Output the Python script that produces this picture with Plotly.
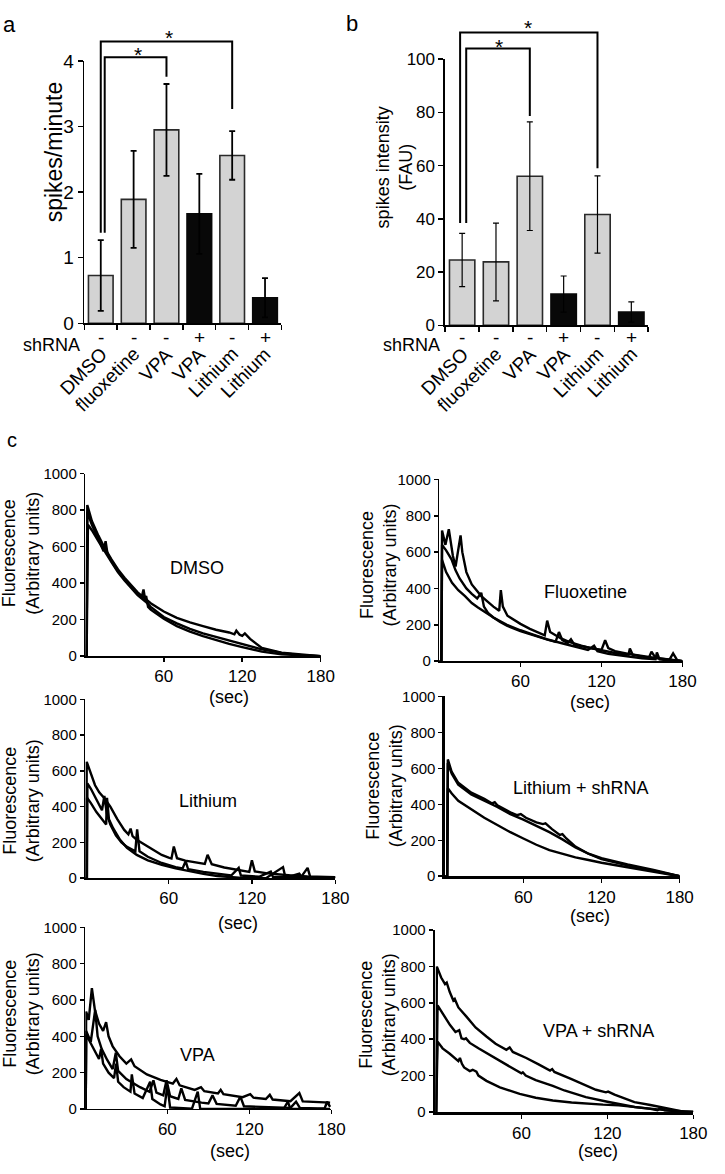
import plotly.graph_objects as go

W, H = 725, 1174
FONT = "Liberation Sans, Arial, Helvetica, sans-serif"

# ---------------- data: panels a and b ----------------
categories = ["DMSO", "fluoxetine", "VPA", "VPA", "Lithium", "Lithium"]
shrna = ["-", "-", "-", "+", "-", "+"]
spikes_per_min = [0.73, 1.89, 2.95, 1.67, 2.56, 0.39]
spikes_per_min_err = [0.54, 0.74, 0.70, 0.61, 0.37, 0.30]
spike_intensity = [24.5, 23.8, 56.0, 11.7, 41.6, 5.0]
spike_intensity_err = [10.0, 14.6, 20.4, 6.8, 14.5, 3.8]
y_ticks_a = [0, 1, 2, 3, 4]
y_ticks_b = [0, 20, 40, 60, 80, 100]

# ---------------- data: panel c traces (time in s, fluorescence) ----------------
dmso_t1 = [0, 1, 1.5, 5, 10, 15, 20, 25, 30, 40, 50, 60, 70, 80, 90, 100, 110, 114, 115.5, 118, 120, 122, 126, 135, 150, 165, 180]
dmso_y1 = [0, 0, 828, 740, 660, 590, 530, 475, 430, 350, 290, 245, 210, 185, 165, 145, 130, 120, 140, 118, 112, 125, 95, 45, 20, 8, 0]
dmso_t2 = [0, 1, 1.5, 5, 10, 14, 15.5, 17, 20, 25, 30, 40, 43, 44.5, 46, 50, 60, 70, 80, 90, 100, 110, 120, 135, 150, 165, 180]
dmso_y2 = [0, 0, 790, 720, 640, 575, 630, 560, 520, 465, 420, 345, 320, 365, 300, 270, 215, 180, 150, 125, 105, 85, 65, 38, 18, 6, 0]
dmso_t3 = [0, 1, 2, 5, 10, 15, 20, 25, 30, 40, 45, 46.5, 48, 50, 60, 70, 80, 90, 100, 110, 120, 135, 150, 165, 180]
dmso_y3 = [0, 0, 720, 690, 630, 570, 515, 460, 415, 335, 305, 330, 270, 255, 205, 165, 135, 110, 88, 68, 50, 25, 10, 3, 0]

fluo_t1 = [0, 1.5, 2, 4.5, 7, 10, 12, 15.7, 17, 20, 24, 31, 40, 44.3, 45.5, 47, 50.4, 60, 67, 78, 79.8, 82, 90, 96, 105, 113, 120, 122.7, 125, 130, 140, 150, 160, 170, 180]
fluo_y1 = [0, 0, 719, 640, 726, 580, 521, 692, 600, 490, 422, 358, 300, 277, 391, 300, 250, 205, 178, 142, 223, 160, 125, 106, 85, 70, 62, 115, 72, 55, 40, 28, 18, 10, 0]
fluo_t2 = [0, 1.5, 2, 5, 9, 12, 15, 20, 24, 28, 31, 33, 36, 40, 45, 50, 60, 70, 80, 86, 88.5, 91, 95, 97.4, 100, 110, 120, 130, 140, 141, 143, 150, 155, 157, 160, 170, 180]
fluo_y2 = [0, 0, 640, 610, 560, 500, 455, 400, 370, 345, 376, 300, 265, 240, 215, 195, 165, 140, 118, 106, 160, 115, 100, 120, 90, 75, 58, 45, 35, 70, 36, 25, 18, 52, 18, 8, 0]
fluo_t3 = [0, 1.5, 2, 5, 9.4, 14, 19, 24, 28.6, 35, 40, 50, 60, 70, 80, 90, 100, 110, 114.5, 117, 125, 140, 150, 160, 161, 163, 170, 173, 176, 180]
fluo_y3 = [0, 0, 557, 490, 431, 390, 358, 320, 295, 262, 240, 200, 170, 145, 120, 100, 80, 62, 85, 55, 40, 25, 16, 10, 48, 10, 4, 43, 5, 0]

li_t1 = [0, 0.7, 1, 4, 7, 10, 14, 18, 23, 28, 31, 32.6, 34, 37, 42, 50, 55, 60, 62, 63.7, 66, 72, 80, 86, 88, 91, 100, 110, 118, 119.9, 122, 130, 140, 150, 160, 170, 180]
li_y1 = [0, 0, 651, 590, 520, 480, 445, 400, 330, 270, 245, 277, 235, 215, 190, 150, 130, 115, 110, 177, 112, 98, 88, 80, 131, 78, 60, 45, 35, 100, 38, 28, 20, 14, 10, 8, 6]
li_t2 = [0, 1.2, 1.5, 4, 8, 12, 13.7, 15.5, 18, 22, 26, 30, 35, 36, 37.3, 39, 45, 55, 65, 70, 72.2, 74, 85, 95, 105, 110.4, 112, 125, 133.5, 135, 145, 154, 156, 165, 180]
li_y2 = [0, 0, 530, 500, 440, 380, 460, 360, 300, 240, 200, 175, 155, 150, 273, 150, 120, 85, 62, 55, 95, 50, 35, 25, 15, 58, 15, 8, 37, 8, 5, 26, 4, 3, 3]
li_t3 = [0, 1, 1.2, 4, 8, 12, 15, 15.6, 17, 20, 25, 30, 37, 45, 55, 65, 75, 85, 95, 105, 115, 130, 142.3, 144, 155, 160, 162, 170, 180]
li_y3 = [0, 0, 450, 420, 370, 330, 300, 450, 330, 280, 215, 170, 130, 100, 75, 55, 38, 24, 12, 5, 0, 0, 62, 5, 3, 58, 3, 3, 3]

lish_t1 = [0, 1.5, 2, 5, 10, 20, 30, 36, 38, 40, 50, 55, 58, 62, 70, 75, 77, 82, 88, 90, 93, 100, 110, 120, 140, 160, 180]
lish_y1 = [0, 0, 650, 580, 520, 465, 430, 405, 412, 395, 355, 340, 346, 325, 300, 290, 294, 262, 230, 234, 210, 165, 125, 100, 65, 35, 0]
lish_t2 = [0, 1.5, 2, 5, 10, 20, 30, 40, 50, 60, 70, 80, 90, 100, 110, 120, 140, 160, 180]
lish_y2 = [0, 0, 630, 570, 510, 455, 420, 385, 345, 315, 280, 245, 205, 160, 125, 95, 60, 30, 0]
lish_t3 = [0, 1.5, 2, 5, 10, 20, 30, 40, 50, 60, 70, 80, 90, 100, 110, 120, 140, 160, 180]
lish_y3 = [0, 0, 490, 460, 420, 370, 325, 285, 245, 210, 175, 145, 125, 105, 90, 75, 50, 25, 0]

vpa_t1 = [0, 0.3, 0.6, 2.5, 4.8, 7, 10, 13, 15.2, 17, 20, 25, 30, 33.5, 36, 45, 55, 64, 66.6, 69, 80, 84.6, 87, 97, 99, 101, 115, 120.6, 123, 132, 134.9, 137, 150, 156.5, 159, 170, 179]
vpa_y1 = [0, 0, 536, 491, 665, 545, 470, 430, 478, 400, 345, 290, 250, 273, 235, 190, 160, 140, 165, 130, 105, 120, 98, 85, 105, 82, 65, 82, 62, 55, 78, 52, 43, 88, 42, 37, 35]
vpa_t2 = [0, 0.3, 0.6, 4, 7.2, 9, 12, 16, 20, 22.3, 24, 30, 40, 47, 49.8, 52, 57, 59.4, 62, 68, 70.2, 73, 85, 90, 93, 96, 110, 113.4, 116, 130, 150, 154.1, 157, 170, 175, 176.8, 179]
vpa_y2 = [0, 0, 430, 370, 545, 400, 330, 270, 220, 310, 210, 165, 120, 95, 158, 90, 75, 158, 70, 55, 113, 50, 35, 30, 75, 28, 18, 68, 15, 10, 6, 40, 5, 3, 3, 40, 12]
vpa_t3 = [0, 0.3, 0.6, 4, 8, 10, 11.5, 13, 17, 21, 22.5, 24, 28, 33, 34, 36, 42, 47.4, 49, 55, 58, 60, 62, 70, 78, 82.2, 84, 95, 110, 130, 145, 148.1, 150, 165, 179]
vpa_y3 = [0, 0, 410, 360, 300, 275, 330, 250, 200, 170, 250, 150, 120, 95, 190, 85, 60, 150, 55, 25, 15, 130, 8, 3, 2, 95, 2, 0, 0, 0, 0, 40, 0, 0, 0]

vpash_t1 = [0, 0.5, 1, 4, 6.7, 7.9, 10, 12.5, 13.5, 16, 21.8, 28, 35.6, 42, 49.5, 51.8, 54, 63.4, 72, 80, 81.5, 83, 95, 105, 112, 119, 120.5, 125, 138.9, 150, 157, 165, 174, 180]
vpash_y1 = [0, 0, 800, 740, 703, 712, 660, 613, 622, 575, 523, 465, 415, 375, 342, 355, 330, 297, 262, 228, 236, 220, 180, 144, 122, 108, 112, 95, 54, 38, 27, 12, 0, 0]
vpash_t2 = [0, 0.5, 1.5, 5, 10.2, 14, 16.6, 18.2, 20, 21.3, 24, 30, 35.6, 42, 49.5, 55, 60, 61, 63, 70, 81.9, 90, 105, 120, 139, 150, 155, 157, 160, 170, 180]
vpash_y2 = [0, 0, 586, 540, 478, 440, 450, 405, 400, 405, 380, 350, 324, 292, 261, 235, 212, 218, 200, 175, 144, 118, 81, 56, 27, 17, 10, 22, 9, 3, 0]
vpash_t3 = [0, 0.5, 1.5, 5, 10, 14.8, 16, 17.1, 18.5, 20, 24, 26, 28.6, 30, 35.6, 45, 58.8, 70, 81.9, 95, 105, 117, 128, 140, 150, 160, 170, 180]
vpash_y3 = [0, 0, 387, 350, 320, 290, 280, 297, 265, 245, 225, 232, 222, 200, 171, 135, 99, 78, 63, 52, 45, 40, 36, 28, 18, 10, 4, 0]

c_y_ticks = [0, 200, 400, 600, 800, 1000]
c_x_ticks = [60, 120, 180]

# ---------------- layout helpers (pixel -> paper) ----------------
def dx(a, b):
    return [a / W, b / W]


def dy(top, bottom):
    return [1 - bottom / H, 1 - top / H]


def px(x, y):
    return x / W, 1 - y / H


def note(text, xy, size=18, angle=0, xanchor="center", yanchor="middle"):
    x, y = px(*xy)
    return dict(text=text, x=x, y=y, xref="paper", yref="paper", showarrow=False,
                xanchor=xanchor, yanchor=yanchor, textangle=angle,
                font=dict(family=FONT, size=size, color="black"))


fig = go.Figure()

# ---------------- bar panels ----------------
bar_colors = ["#d3d3d3" if s == "-" else "#080808" for s in shrna]
line_colors = ["#2a2a2a" if s == "-" else "#080808" for s in shrna]
xpos = list(range(len(categories)))

bar_panels = [
    (spikes_per_min, spikes_per_min_err, "x", "y", (86, 287), (52, 319), [0, 4], y_ticks_a, 19, 1.8),
    (spike_intensity, spike_intensity_err, "x2", "y2", (454, 661), (50, 321), [0, 100], y_ticks_b, 17, 1.2),
]

for vals, errs, xa, ya, xd, yd, yr, yt, tf, et in bar_panels:
    fig.add_trace(go.Bar(
        x=xpos, y=vals, xaxis=xa, yaxis=ya,
        marker=dict(color=bar_colors, line=dict(color=line_colors, width=1.6)),
        error_y=dict(type="data", array=errs, visible=True, color="black", thickness=et, width=3),
        width=0.75, showlegend=False,
    ))
    sfx = xa[1:]
    fig.layout["xaxis" + sfx] = dict(
        domain=dx(*xd), range=[-0.5, 5.5], anchor=ya,
        showline=True, linecolor="black", linewidth=1.8,
        tickmode="array", tickvals=[i - 0.5 for i in range(7)], ticktext=[""] * 7,
        ticks="outside", ticklen=5, tickwidth=1.5, tickcolor="black",
        showgrid=False, zeroline=False, fixedrange=True,
    )
    fig.layout["yaxis" + sfx] = dict(
        domain=dy(*yd), range=yr, anchor=xa,
        showline=True, linecolor="black", linewidth=1.8,
        tickmode="array", tickvals=yt,
        ticks="outside", ticklen=5, tickwidth=1.5, tickcolor="black",
        tickfont=dict(family=FONT, size=tf, color="black"),
        showgrid=False, zeroline=False, fixedrange=True,
    )


def data_to_px(xv, yv, xd, yd, yr):
    x0, x1 = xd
    top, bottom = yd
    xpix = x0 + (xv + 0.5) / 6.0 * (x1 - x0)
    ypix = bottom - (yv - yr[0]) / (yr[1] - yr[0]) * (bottom - top)
    return xpix, ypix


annotations = []
shapes = []


def bracket(pts, xd, yd, yr, width=2):
    path = ""
    for i, (xv, yv) in enumerate(pts):
        xp, yp = px(*data_to_px(xv, yv, xd, yd, yr))
        path += ("M" if i == 0 else "L") + f"{xp:.5f},{yp:.5f}"
    shapes.append(dict(type="path", path=path, xref="paper", yref="paper",
                       line=dict(color="black", width=width)))


def star(xv, yv, xd, yd, yr, size=21):
    xp, yp = data_to_px(xv, yv, xd, yd, yr)
    annotations.append(note("*", (xp, yp + 5), size=size))


# brackets panel a
xd_a, yd_a, yr_a = (86, 287), (52, 319), [0, 4]
bracket([(0.0, 1.38), (0.0, 4.30), (4.0, 4.30), (4.0, 3.27)], xd_a, yd_a, yr_a)
bracket([(0.12, 1.38), (0.12, 4.06), (2.0, 4.06), (2.0, 3.76)], xd_a, yd_a, yr_a)
star(2.07, 4.44, xd_a, yd_a, yr_a)
star(1.14, 4.18, xd_a, yd_a, yr_a)

# brackets panel b
xd_b, yd_b, yr_b = (454, 661), (50, 321), [0, 100]
bracket([(-0.06, 38.4), (-0.06, 110), (4.0, 110), (4.0, 59)], xd_b, yd_b, yr_b)
bracket([(0.12, 38.4), (0.12, 104), (2.0, 104), (2.0, 78.6)], xd_b, yd_b, yr_b)
star(1.96, 113.7, xd_b, yd_b, yr_b)
star(1.09, 106.6, xd_b, yd_b, yr_b)

# shRNA rows and rotated category labels
for xd, lab_x in ((xd_a, 84), (xd_b, 451)):
    annotations.append(note("shRNA", (lab_x, 341), size=18, xanchor="right"))
    for i, (cat, s) in enumerate(zip(categories, shrna)):
        cx, _ = data_to_px(i, 0, xd, (0, 1), [0, 1])
        annotations.append(note(s, (cx, 333), size=19))
        annotations.append(note(cat, (cx + 13, 337), size=19, angle=-45,
                                xanchor="right", yanchor="top"))

# axis titles of bar panels
annotations.append(note("spikes/minute", (56, 144), size=23, angle=-90))
annotations.append(note("spikes intensity<br>(FAU)", (402, 160), size=18, angle=-90))

# ---------------- panel c ----------------
c_panels = [
    ("DMSO", 3, (87, 327), (472, 658), 1.5,
     [(dmso_t1, dmso_y1), (dmso_t2, dmso_y2), (dmso_t3, dmso_y3)], (201, 568), (233, 700), (21, 553)),
    ("Fluoxetine", 4, (448, 696), (478, 663), 1.5,
     [(fluo_t1, fluo_y1), (fluo_t2, fluo_y2), (fluo_t3, fluo_y3)], (597, 593), (602, 705), (386, 565)),
    ("Lithium", 5, (87, 342), (702, 884), 1.5,
     [(li_t1, li_y1), (li_t2, li_y2), (li_t3, li_y3)], (212, 805), (243, 930), (22, 805)),
    ("Lithium + shRNA", 6, (454, 693), (699, 882), 2.8,
     [(lish_t1, lish_y1), (lish_t2, lish_y2), (lish_t3, lish_y3)], (592, 792), (602, 922), (392, 790)),
    ("VPA", 7, (87, 338), (934, 1119), 1.5,
     [(vpa_t1, vpa_y1), (vpa_t2, vpa_y2), (vpa_t3, vpa_y3)], (201, 1064), (235, 1162), (22, 1022)),
    ("VPA + shRNA", 8, (444, 707), (937, 1122), 2.8,
     [(vpash_t1, vpash_y1), (vpash_t2, vpash_y2), (vpash_t3, vpash_y3)], (610, 1040), (610, 1162), (385, 1023)),
]

for name, n, xd, yd, aw, traces, lab, sec, ttl in c_panels:
    for t, v in traces:
        fig.add_trace(go.Scatter(x=t, y=v, xaxis=f"x{n}", yaxis=f"y{n}", mode="lines",
                                 line=dict(color="black", width=2.4), showlegend=False,
                                 cliponaxis=False))
    fig.layout[f"xaxis{n}"] = dict(
        domain=dx(*xd), range=[0, 180], anchor=f"y{n}",
        showline=True, linecolor="black", linewidth=aw,
        tickmode="array", tickvals=c_x_ticks, ticks="outside", ticklen=4, tickwidth=1.5,
        tickcolor="black", tickfont=dict(family=FONT, size=17, color="black"),
        showgrid=False, zeroline=False, fixedrange=True,
    )
    fig.layout[f"yaxis{n}"] = dict(
        domain=dy(*yd), range=[0, 1000], anchor=f"x{n}",
        showline=True, linecolor="black", linewidth=aw,
        tickmode="array", tickvals=c_y_ticks, ticks="outside", ticklen=4, tickwidth=1.5,
        tickcolor="black", tickfont=dict(family=FONT, size=15, color="black"),
        showgrid=False, zeroline=False, fixedrange=True,
    )
    annotations.append(note(name, lab, size=18))
    annotations.append(note("(sec)", sec, size=18))
    annotations.append(note("Fluorescence<br>(Arbitrary units)", ttl, size=18, angle=-90))

# panel letters
for letter, pos, size in (("a", (10, 15), 22), ("b", (359, 14), 22), ("c", (12, 438), 20)):
    annotations.append(note(letter, pos, size=size))

fig.update_layout(
    width=W, height=H, margin=dict(l=0, r=0, t=0, b=0),
    paper_bgcolor="white", plot_bgcolor="white",
    annotations=annotations, shapes=shapes,
    font=dict(family=FONT, color="black"),
    bargap=0.25,
)

fig.write_html("out.html", config={"displayModeBar": False, "staticPlot": True},
               post_script="document.body.style.margin='0';")
